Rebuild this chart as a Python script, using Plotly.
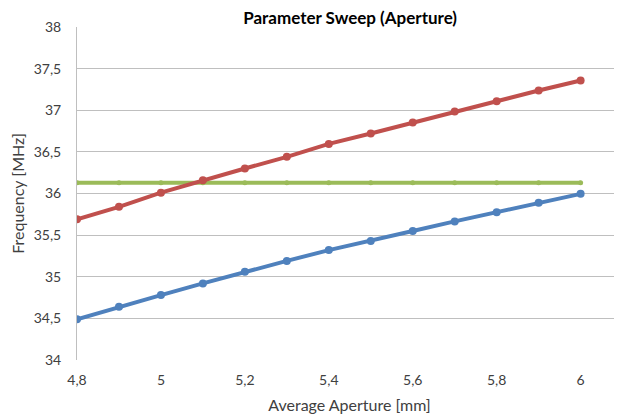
import plotly.graph_objects as go

aperture = [4.8, 4.9, 5.0, 5.1, 5.2, 5.3, 5.4, 5.5, 5.6, 5.7, 5.8, 5.9, 6.0]
freq_blue = [34.49, 34.64, 34.78, 34.92, 35.06, 35.19, 35.32, 35.43, 35.55, 35.665, 35.776, 35.888, 35.996]
freq_red = [35.69, 35.84, 36.01, 36.16, 36.30, 36.44, 36.596, 36.72, 36.853, 36.985, 37.108, 37.237, 37.357]
freq_green = [36.13] * 13
x_ticks = [4.8, 5.0, 5.2, 5.4, 5.6, 5.8, 6.0]
y_ticks = [34, 34.5, 35, 35.5, 36, 36.5, 37, 37.5, 38]

FONT = "Lato, Liberation Sans, sans-serif"
fig = go.Figure()
for ys, col, ms in [(freq_green, "#9BBB59", 5), (freq_blue, "#4F81BD", 8), (freq_red, "#C0504D", 8)]:
    fig.add_trace(go.Scatter(
        x=aperture, y=ys, mode="lines+markers",
        line=dict(color=col, width=4),
        marker=dict(color=col, size=ms),
        showlegend=False, hoverinfo="x+y"))

fig.update_layout(
    width=622, height=414,
    margin=dict(l=69, r=8, t=19, b=62),
    paper_bgcolor="white", plot_bgcolor="white",
    separators=", ",
    font=dict(family=FONT, size=14, color="#404040"),
    title=dict(text="<b>Parameter Sweep (Aperture)</b>", x=0.55, xanchor="center",
               y=0.976, yanchor="middle", font=dict(family=FONT, size=17, color="#000000")),
    xaxis=dict(range=[4.8, 6.0986], tickvals=x_ticks, showgrid=False, zeroline=False,
               showline=False, ticks="", ticklen=0, automargin=False, ticklabelstandoff=10,
               title=dict(text="Average Aperture [mm]", standoff=12, font=dict(size=16))),
    yaxis=dict(range=[34, 38], tickvals=y_ticks, showgrid=True, gridcolor="#BFBFBF",
               gridwidth=1, zeroline=False, showline=True, linecolor="#BFBFBF",
               linewidth=1, ticks="", ticklabelstandoff=12, automargin=False,
               title=dict(text="Frequency [MHz]", standoff=5, font=dict(size=16))),
)
fig.write_html("out.html")
